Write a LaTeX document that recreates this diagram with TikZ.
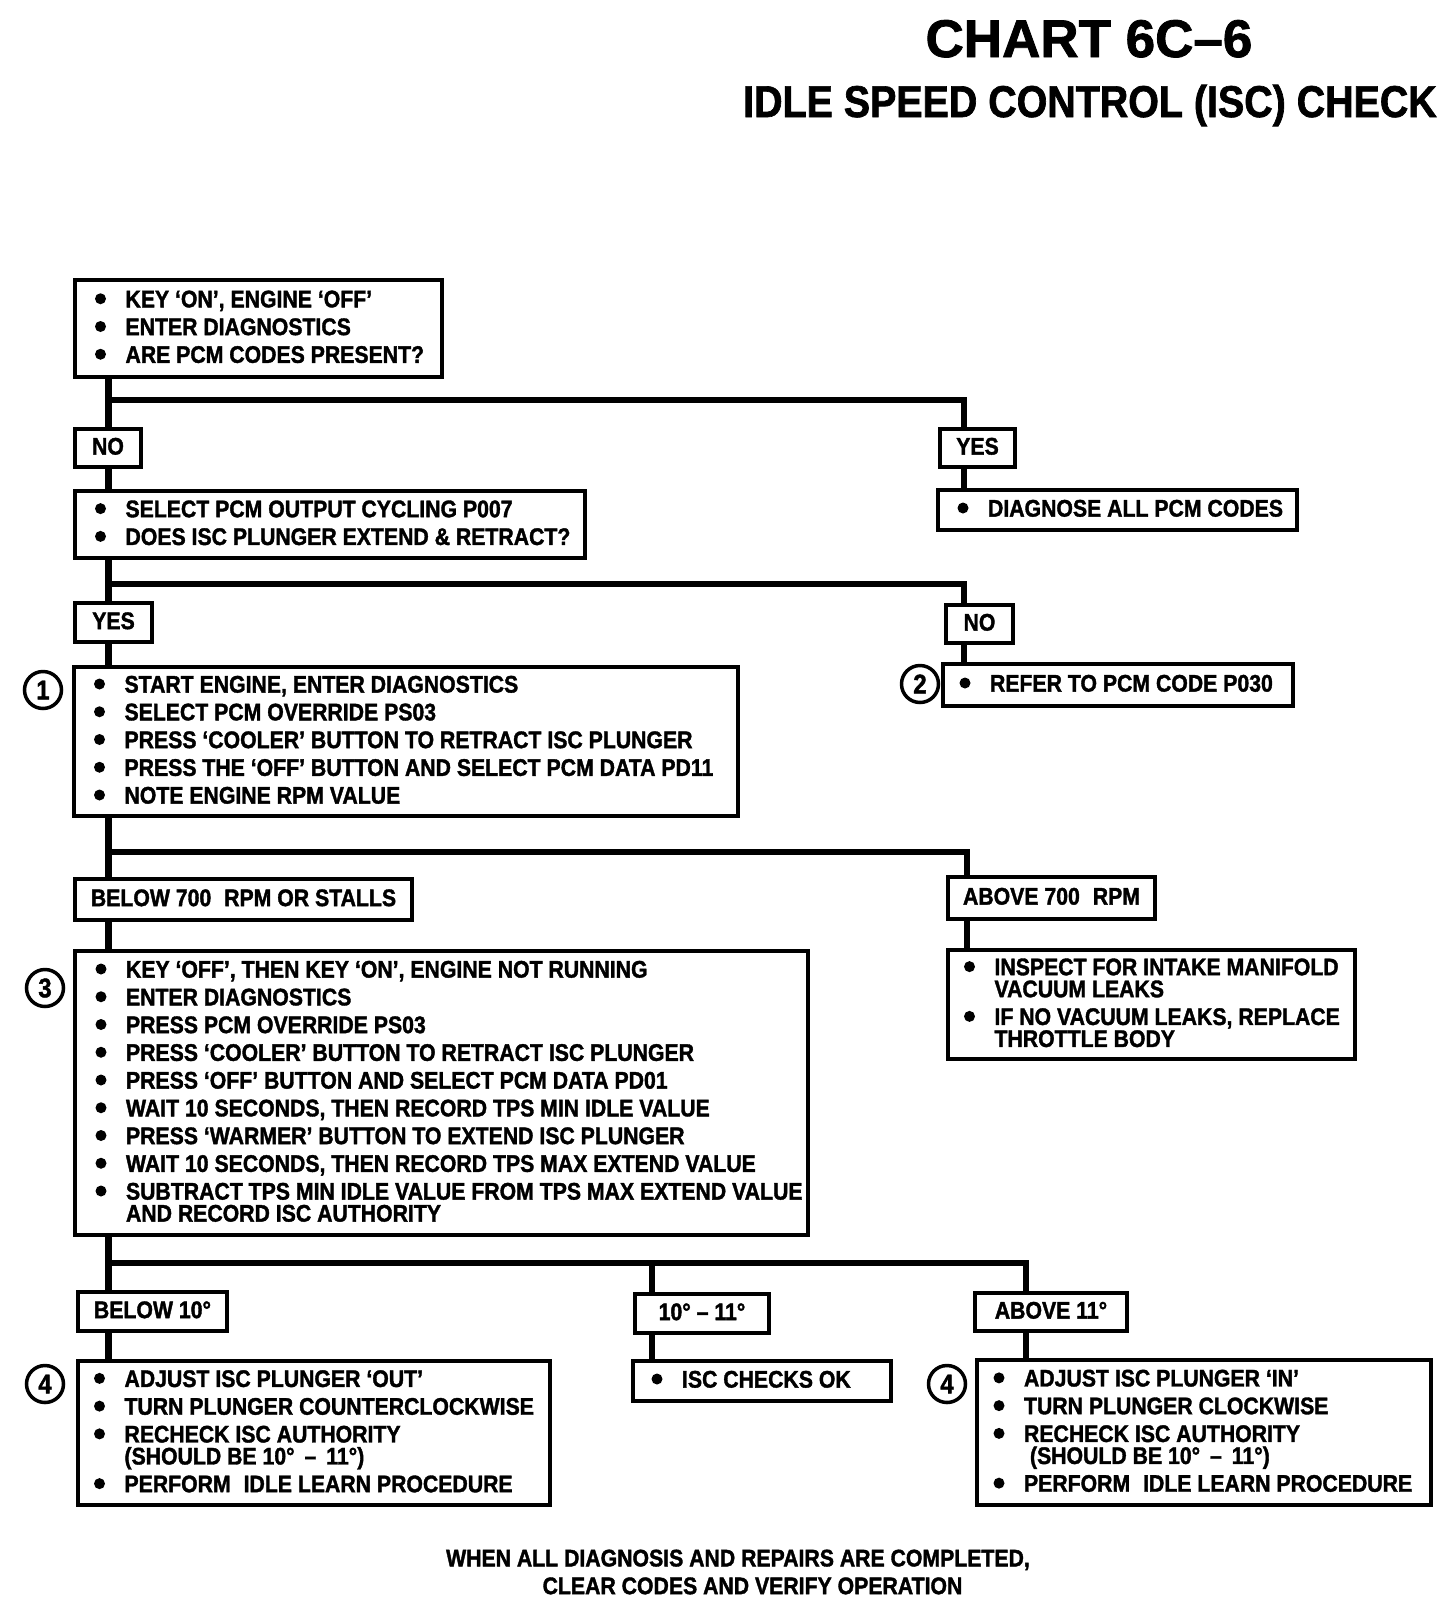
\documentclass[tikz,border=0pt]{standalone}
\usepackage{fontspec}
\setmainfont{Liberation Sans}[FakeStretch=0.885, BoldFeatures={FakeBold=1.5}]
\newfontfamily\titlefont{Liberation Sans}[BoldFeatures={FakeBold=1.5}]
\usetikzlibrary{backgrounds}

\newcommand{\bodyfont}{\fontsize{24}{27.75}\selectfont\bfseries}
\newcommand{\st}{\rule[-4pt]{0pt}{21.2pt}}
\newcommand{\bul}{\st\makebox[30.5pt][l]{\raisebox{3.1pt}{\tikz\fill (0,0) circle (5.5pt);}}}
\newcommand{\cnt}{\\[-5.75pt]\st\hspace*{30.5pt}}
\newcommand{\boxat}[5]{\node[box,anchor=north west,minimum width={#4-#2},minimum height={#5-#3}] (#1) at (#2,#3) {};}
\newcommand{\labat}[6]{\node[lab,anchor=north west,minimum width={#4-#2},minimum height={#5-#3}] (#1) at (#2,#3) {\st #6};}

\tikzset{
  box/.style={draw, fill=white, line width=3.8pt, inner sep=0pt, outer sep=0pt, line join=miter},
  lab/.style={box, font=\bodyfont, align=center},
  txt/.style={font=\bodyfont, align=left, inner sep=0pt, outer sep=0pt, anchor=west},
  circ/.style={circle, draw, fill=white, line width=3.5pt, minimum size=37pt, inner sep=0pt,
               font=\fontsize{27}{27}\selectfont\bfseries},
  conn/.style={line width=6.5pt, line join=miter}
}

\begin{document}
\begin{tikzpicture}[x=1pt,y=-1pt]
\useasboundingbox (0,0) rectangle (1456,1620);

% titles
\node[anchor=base, inner sep=0pt] (title) at (1089,57)
  {\titlefont\bfseries\fontsize{53}{60}\selectfont CHART 6C–6};
\node[anchor=base, inner sep=0pt] (subtitle) at (1090,117)
  {\bfseries\fontsize{44.5}{50}\selectfont IDLE SPEED CONTROL (ISC) CHECK};

% boxes
\boxat{b1}{75}{280}{442}{377}
\node[txt] (b1t) at ([xshift=20pt]b1.west)
  {\bul KEY ‘ON’, ENGINE ‘OFF’\\ \bul ENTER DIAGNOSTICS\\ \bul ARE PCM CODES PRESENT?};

\labat{no1}{75}{429}{141}{467}{NO}
\labat{yes1}{940}{429}{1015}{467}{YES}

\boxat{b2}{75}{491}{585}{558}
\node[txt] (b2t) at ([xshift=20pt]b2.west)
  {\bul SELECT PCM OUTPUT CYCLING P007\\ \bul DOES ISC PLUNGER EXTEND \& RETRACT?};

\boxat{diag}{938}{490}{1297}{530}
\node[txt] (diagt) at ([xshift=19.5pt]diag.west) {\bul DIAGNOSE ALL PCM CODES};

\labat{yes2}{75}{603}{152}{642}{YES}
\labat{no2}{946}{605}{1013}{643}{NO}

\boxat{start}{74}{667}{738}{816}
\node[txt] (startt) at ([xshift=20pt]start.west)
  {\bul START ENGINE, ENTER DIAGNOSTICS\\
   \bul SELECT PCM OVERRIDE PS03\\
   \bul PRESS ‘COOLER’ BUTTON TO RETRACT ISC PLUNGER\\
   \bul PRESS THE ‘OFF’ BUTTON AND SELECT PCM DATA PD11\\
   \bul NOTE ENGINE RPM VALUE};
\node[circ] (c1) at (43,690) {1};

\boxat{refer}{943}{664}{1293}{706}
\node[txt] (refert) at ([xshift=16.5pt]refer.west) {\bul REFER TO PCM CODE P030};
\node[circ] (c2) at (920,684) {2};

\labat{below700}{75}{879}{412}{920}{BELOW 700\hspace{7pt} RPM OR STALLS}
\labat{above700}{948}{877}{1155}{919}{ABOVE 700\hspace{7pt} RPM}

\boxat{insp}{948}{950}{1355}{1059}
\node[txt] (inspt) at ([xshift=16pt]insp.west)
  {\bul INSPECT FOR INTAKE MANIFOLD\cnt VACUUM LEAKS\\
   \bul IF NO VACUUM LEAKS, REPLACE\cnt THROTTLE BODY};

\boxat{b3}{75}{951}{808}{1235}
\node[txt] (b3t) at ([xshift=20.5pt]b3.west)
  {\bul KEY ‘OFF’, THEN KEY ‘ON’, ENGINE NOT RUNNING\\
   \bul ENTER DIAGNOSTICS\\
   \bul PRESS PCM OVERRIDE PS03\\
   \bul PRESS ‘COOLER’ BUTTON TO RETRACT ISC PLUNGER\\
   \bul PRESS ‘OFF’ BUTTON AND SELECT PCM DATA PD01\\
   \bul WAIT 10 SECONDS, THEN RECORD TPS MIN IDLE VALUE\\
   \bul PRESS ‘WARMER’ BUTTON TO EXTEND ISC PLUNGER\\
   \bul WAIT 10 SECONDS, THEN RECORD TPS MAX EXTEND VALUE\\
   \bul SUBTRACT TPS MIN IDLE VALUE FROM TPS MAX EXTEND VALUE\cnt AND RECORD ISC AUTHORITY};
\node[circ] (c3) at (45,988) {3};

\labat{below10}{78}{1292}{227}{1331}{BELOW 10°}
\labat{mid10}{635}{1294}{769}{1333}{10° – 11°}
\labat{above11}{975}{1293}{1127}{1331}{ABOVE 11°}

\boxat{b4l}{78}{1361}{550}{1505}
\node[txt] (b4lt) at ([xshift=16pt]b4l.west)
  {\bul ADJUST ISC PLUNGER ‘OUT’\\
   \bul TURN PLUNGER COUNTERCLOCKWISE\\
   \bul RECHECK ISC AUTHORITY\cnt (SHOULD BE 10° \,–\, 11°)\\
   \bul PERFORM\hspace{7pt} IDLE LEARN PROCEDURE};
\node[circ] (c4l) at (45,1384) {4};

\boxat{isc}{633}{1361}{891}{1401}
\node[txt] (isct) at ([xshift=18.5pt]isc.west) {\bul ISC CHECKS OK};

\boxat{b4r}{977}{1360}{1431}{1505}
\node[txt] (b4rt) at ([xshift=16.5pt]b4r.west)
  {\bul ADJUST ISC PLUNGER ‘IN’\\
   \bul TURN PLUNGER CLOCKWISE\\
   \bul RECHECK ISC AUTHORITY\cnt \hspace*{6pt}(SHOULD BE 10° \,–\, 11°)\\
   \bul PERFORM\hspace{7pt} IDLE LEARN PROCEDURE};
\node[circ] (c4r) at (947,1384) {4};

% footer
\node[anchor=north, font=\bodyfont, align=center, inner sep=0pt] (footer) at (738,1549)
  {\st WHEN ALL DIAGNOSIS AND REPAIRS ARE COMPLETED,\\ \st\hspace*{29pt}CLEAR CODES AND VERIFY OPERATION};

% connectors
\coordinate (t1) at (108.5,400);
\coordinate (t2) at (964,400);
\coordinate (t3) at (108.5,584);
\coordinate (t4) at (964,584);
\coordinate (t5) at (108.5,852);
\coordinate (t6) at (967,852);
\coordinate (t7) at (108.5,1263);
\coordinate (t8) at (652,1263);
\coordinate (t9) at (1026,1263);

\begin{scope}[on background layer]
\fill[white] (0,0) rectangle (1456,1620);
\draw[conn] (b1.south -| t1) -- (b2.north -| t1);
\draw[conn] (t1) -- (t2) -- (diag.north -| t2);
\draw[conn] (b2.south -| t3) -- (start.north -| t3);
\draw[conn] (t3) -- (t4) -- (refer.north -| t4);
\draw[conn] (start.south -| t5) -- (b3.north -| t5);
\draw[conn] (t5) -- (t6) -- (insp.north -| t6);
\draw[conn] (b3.south -| t7) -- (b4l.north -| t7);
\draw[conn] (t7) -- (t9) -- (b4r.north -| t9);
\draw[conn] (t8) -- (isc.north -| t8);
\end{scope}
\end{tikzpicture}
\end{document}
